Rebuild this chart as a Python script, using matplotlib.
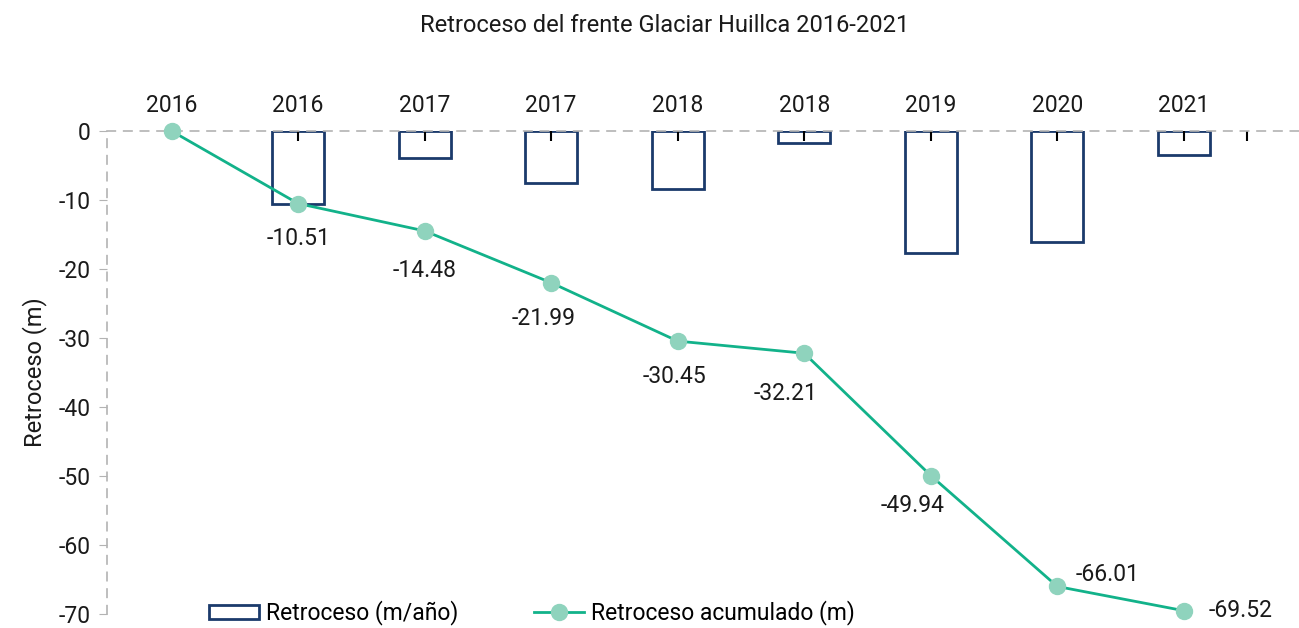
import numpy as np
import matplotlib.pyplot as plt
from matplotlib.patches import Patch
from matplotlib.lines import Line2D

plt.rcParams['font.family'] = ['Roboto', 'DejaVu Sans']
plt.rcParams['axes.unicode_minus'] = False

# Datos
years = ['2016', '2016', '2017', '2017', '2018', '2018', '2019', '2020', '2021']
retroceso = [0, -10.51, -3.97, -7.51, -8.46, -1.76, -17.73, -16.07, -3.51]
acumulado = [0, -10.51, -14.48, -21.99, -30.45, -32.21, -49.94, -66.01, -69.52]

navy = '#1B3A6B'
teal = '#12B28A'
mint = '#8FD3BD'
gray = '#B3B3B3'

fig = plt.figure(figsize=(12.99, 6.28), dpi=100)
ax = fig.add_axes([107 / 1299, 1 - 614 / 628, 1 - 107 / 1299, 483 / 628])
ax.set_axisbelow(False)

x = np.arange(len(years))

# barras sin relleno (la primera es cero)
ax.bar(x[1:], retroceso[1:], width=0.41, facecolor='white', edgecolor=navy,
       linewidth=2, zorder=2)

# linea acumulada
ax.plot(x, acumulado, color=teal, linewidth=2, marker='o', markersize=11.5,
        markerfacecolor=mint, markeredgecolor=mint, zorder=4, clip_on=False)

# etiquetas de datos (desplazamientos en pixeles)
offsets = [None, (0, -35), (0, -40), (-8, -36), (-3, -35), (-19, -40),
           (-18, -30), (50, 12), (57, 0)]
for i, v in enumerate(acumulado):
    if offsets[i] is None:
        continue
    ax.annotate('{:.2f}'.format(v), (x[i], v), xytext=offsets[i],
                textcoords='offset pixels', ha='center', va='center',
                fontsize=16.5, color='#1a1a1a', zorder=5)

ax.set_xlim(-0.51, 8.91)
ax.set_ylim(-70, 0)

# eje x arriba
ax.xaxis.tick_top()
ax.xaxis.remove_overlapping_locs = False
ax.set_xticks(x)
ax.set_xticklabels(years, fontsize=16.5, color='#1a1a1a')
ax.tick_params(axis='x', which='major', length=0, pad=10)
ax.set_xticks(list(x[1:]) + [8.5], minor=True)
ax.tick_params(axis='x', which='minor', direction='in', length=7, width=1.5,
               color='black')

# eje y
ax.set_yticks(np.arange(0, -71, -10))
ax.tick_params(axis='y', length=6, color=gray, labelsize=16.5, labelcolor='#1a1a1a',
               pad=6)
ax.set_ylabel('Retroceso (m)', fontsize=17, color='#1a1a1a', labelpad=8)

for s in ['right', 'bottom']:
    ax.spines[s].set_visible(False)
ax.spines['left'].set_color(gray)
ax.spines['left'].set_linestyle((0, (5, 5)))
ax.spines['left'].set_linewidth(1.2)
ax.spines['top'].set_color(gray)
ax.spines['top'].set_linestyle((0, (5, 5)))
ax.spines['top'].set_linewidth(1.2)
ax.spines['top'].set_zorder(3)

fig.text(665 / 1299, 1 - 25 / 628, 'Retroceso del frente Glaciar Huillca 2016-2021',
         ha='center', va='center', fontsize=17, color='#1a1a1a')

handles = [Patch(facecolor='white', edgecolor=navy, linewidth=2),
           Line2D([0], [0], color=teal, linewidth=2, marker='o', markersize=11.5,
                  markerfacecolor=mint, markeredgecolor=mint)]
fig.legend(handles, ['Retroceso (m/año)', 'Retroceso acumulado (m)'],
           loc='center', bbox_to_anchor=(532 / 1299, 1 - 613 / 628), ncol=2,
           frameon=False, fontsize=16.5, columnspacing=3.3, handlelength=2.2,
           handleheight=0.6, handletextpad=0.3)

fig.savefig('out.png', dpi=100)
